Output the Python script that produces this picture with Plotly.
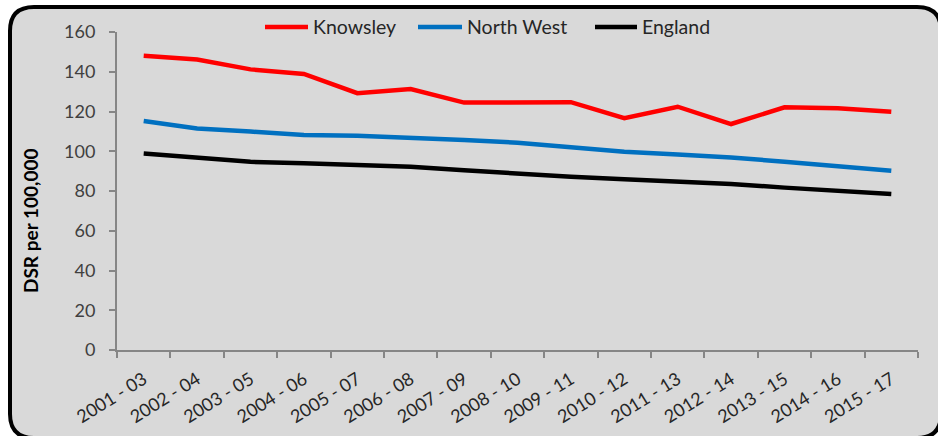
import plotly.graph_objects as go

# Three-year pooled periods
periods = ["2001 - 03", "2002 - 04", "2003 - 05", "2004 - 06", "2005 - 07",
           "2006 - 08", "2007 - 09", "2008 - 10", "2009 - 11", "2010 - 12",
           "2011 - 13", "2012 - 14", "2013 - 15", "2014 - 16", "2015 - 17"]

# Directly standardised rate per 100,000
knowsley = [148.1, 146.2, 141.2, 138.9, 129.2, 131.3, 124.5, 124.6, 124.7,
            116.6, 122.4, 113.7, 122.1, 121.6, 119.9]
north_west = [115.2, 111.4, 109.9, 108.2, 107.8, 107.0, 105.7, 104.3, 101.8,
              99.8, 98.4, 96.9, 94.7, 92.2, 90.2]
england = [98.9, 96.9, 94.7, 93.9, 93.1, 92.2, 90.4, 88.6, 87.2, 85.9, 84.7,
           83.5, 81.7, 80.2, 78.5]

series_names = ["Knowsley", "North West", "England"]
series_values = [knowsley, north_west, england]
series_colors = ["#FF0000", "#0070C0", "#000000"]

y_ticks = [0, 20, 40, 60, 80, 100, 120, 140, 160]

W, H = 938, 436
ML, MR, MT, MB = 117, 20, 32, 86
PW, PH = W - ML - MR, H - MT - MB
FONT = "Lato, 'Open Sans', sans-serif"


def px_x(px):
    return (px - ML) / PW


def px_y(py):
    return (H - MB - py) / PH


def rounded_rect(x0, y0, x1, y1, r):
    pts = [
        ("M", [(x0 + r, y0)]),
        ("L", [(x1 - r, y0)]),
        ("Q", [(x1, y0), (x1, y0 + r)]),
        ("L", [(x1, y1 - r)]),
        ("Q", [(x1, y1), (x1 - r, y1)]),
        ("L", [(x0 + r, y1)]),
        ("Q", [(x0, y1), (x0, y1 - r)]),
        ("L", [(x0, y0 + r)]),
        ("Q", [(x0, y0), (x0 + r, y0)]),
    ]
    out = []
    for cmd, coords in pts:
        out.append(cmd + " ".join(f"{px_x(a):.5f},{px_y(b):.5f}" for a, b in coords))
    return " ".join(out) + " Z"


fig = go.Figure()
for name, vals, col in zip(series_names, series_values, series_colors):
    fig.add_trace(go.Scatter(
        x=periods, y=vals, name=name, mode="lines",
        line=dict(color=col, width=4.5), showlegend=False,
    ))

shapes = [dict(
    type="path", xref="paper", yref="paper", layer="below",
    path=rounded_rect(10, 7, 941, 438, 24),
    fillcolor="#D9D9D9", line=dict(color="#000000", width=4),
)]
annotations = []

# Legend row across the top
legend_items = [(265, 308, 311), (418, 462, 465), (595, 637, 640)]
for (lx0, lx1, tx), name, col in zip(legend_items, series_names, series_colors):
    shapes.append(dict(type="line", xref="paper", yref="paper",
                       x0=px_x(lx0), x1=px_x(lx1), y0=px_y(27), y1=px_y(27),
                       line=dict(color=col, width=4.5)))
    annotations.append(dict(text=name, xref="paper", yref="paper",
                            x=px_x(tx), y=px_y(26), xanchor="left", yanchor="middle",
                            showarrow=False, font=dict(family=FONT, size=19.5, color="#262626")))

annotations.append(dict(
    text="<b>DSR per 100,000</b>", xref="paper", yref="paper",
    x=px_x(30), y=px_y(221), textangle=-90, showarrow=False,
    xanchor="center", yanchor="middle",
    font=dict(family=FONT, size=19, color="#000000"),
))

fig.update_layout(
    width=W, height=H,
    margin=dict(l=ML, r=MR, t=MT, b=MB, autoexpand=False),
    paper_bgcolor="#FFFFFF",
    plot_bgcolor="rgba(0,0,0,0)",
    shapes=shapes,
    annotations=annotations,
    showlegend=False,
    font=dict(family=FONT, size=18, color="#262626"),
)
fig.update_xaxes(
    type="category", range=[-0.5, len(periods) - 0.5], automargin=False,
    showgrid=False, zeroline=False,
    showline=True, linecolor="#868686", linewidth=2,
    ticks="outside", ticklen=6, tickwidth=2, tickcolor="#868686",
    tickson="boundaries", tickangle=-32, ticklabelstandoff=10,
    tickfont=dict(family=FONT, size=18, color="#262626"),
)
fig.update_yaxes(
    range=[0, 160], tickvals=y_ticks, automargin=False,
    showgrid=False, zeroline=False,
    showline=True, linecolor="#868686", linewidth=2,
    ticks="outside", ticklen=6, tickwidth=2, tickcolor="#868686",
    ticklabelstandoff=10,
    tickfont=dict(family=FONT, size=18, color="#404040"),
)

fig.write_html("out.html")
